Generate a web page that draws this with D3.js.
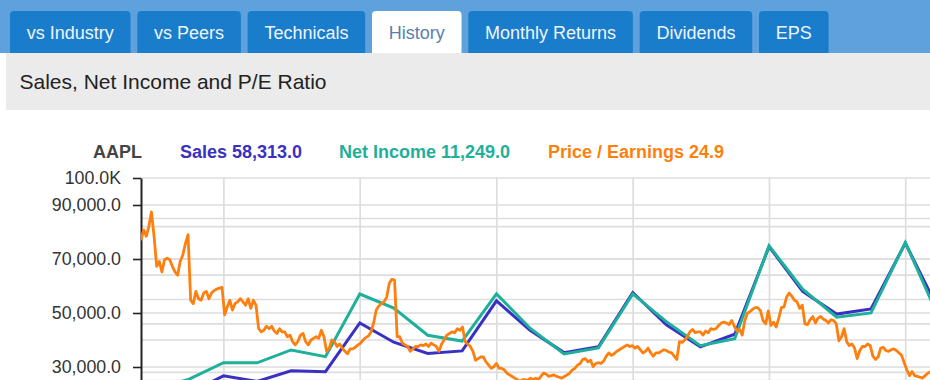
<!DOCTYPE html>
<html>
<head>
<meta charset="utf-8">
<script src="https://cdn.jsdelivr.net/npm/d3@7"></script>
<style>
  html, body { margin: 0; padding: 0; background: #fff; }
  svg { display: block; font-family: "Liberation Sans", Arial, sans-serif; }
</style>
</head>
<body>
<svg id="chart" width="930" height="380"></svg>
<script>
// ---------------- DATA ----------------
const tabs = ["vs Industry", "vs Peers", "Technicals", "History", "Monthly Returns", "Dividends", "EPS"];
const activeTab = "History";
const title = "Sales, Net Income and P/E Ratio";

const ticker = "AAPL";
const legendNames = ["Sales", "Net Income", "Price / Earnings"];
const legendValues = ["58,313.0", "11,249.0", "24.9"];

// quarterly figures (millions)
const quarterDates = [
  "2010-06-30","2010-09-30","2010-12-31",
  "2011-03-31","2011-06-30","2011-09-30","2011-12-31",
  "2012-03-31","2012-06-30","2012-09-30","2012-12-31",
  "2013-03-31","2013-06-30","2013-09-30","2013-12-31",
  "2014-03-31","2014-06-30","2014-09-30","2014-12-31",
  "2015-03-31","2015-06-30","2015-09-30","2015-12-31",
  "2016-03-31"
];
const sales = [
  15700, 20343, 26741,
  24667, 28571, 28270, 46333,
  39186, 35023, 35966, 54512,
  43603, 35323, 37472, 57594,
  45646, 37432, 42123, 74599,
  58010, 49605, 51501, 75872,
  50557
];
const netIncome = [
  3253, 4308, 6004,
  5987, 7308, 6623, 13064,
  11622, 8824, 8223, 13078,
  9547, 6900, 7512, 13072,
  10223, 7748, 8467, 18024,
  13569, 10677, 11124, 18361,
  10516
];

// weekly price / earnings ratio, starting date + 7-day steps
const peStart = "2010-05-24";
const peStepDays = 7;
const peRatio = [
  27.3,28.6,27.8,29.0,30.8,27.8,24.1,24.7,23.4,24.9,
  25.1,24.9,24.1,23.4,23.0,24.7,25.5,26.9,28.0,19.9,
  19.5,21.0,20.1,19.9,20.8,21.0,20.1,20.8,21.1,21.3,
  21.4,21.5,18.1,19.1,19.9,18.7,19.5,19.7,20.1,19.7,
  19.3,20.1,18.9,19.9,19.3,16.4,16.0,16.2,16.7,16.4,
  16.7,16.1,15.8,16.4,16.0,16.0,15.4,15.6,14.8,14.4,
  14.8,15.6,15.8,14.8,14.4,15.0,15.2,15.4,15.2,16.2,
  15.4,13.6,14.0,15.0,14.8,14.2,14.5,14.0,13.6,13.3,
  13.9,13.9,14.1,14.4,14.6,15.0,15.3,15.5,16.0,17.1,
  18.7,19.2,19.5,19.7,20.3,22.0,22.5,22.4,15.4,15.4,
  14.6,14.4,14.2,13.6,13.9,14.2,14.2,14.4,14.3,14.5,
  14.2,14.6,14.4,14.2,13.6,14.5,15.0,15.6,15.8,16.0,
  15.9,16.4,16.2,16.6,14.8,14.5,14.2,13.6,12.5,12.7,
  12.9,12.9,12.3,11.9,11.5,11.7,12.1,11.5,11.5,11.3,
  10.9,10.7,10.5,10.3,10.1,9.9,10.1,10.1,10.0,10.3,
  10.1,10.3,10.1,10.5,10.9,10.8,10.5,10.6,10.7,10.5,
  10.4,10.3,10.5,10.7,10.9,11.3,11.5,11.9,12.1,12.6,
  12.7,12.3,12.5,11.7,12.1,12.2,12.1,12.4,13.0,13.4,
  13.1,13.3,13.6,13.8,14.0,14.2,14.4,14.2,14.3,14.0,
  14.2,13.8,13.4,13.6,14.0,13.4,13.0,13.4,13.4,13.6,
  13.8,13.7,13.5,13.4,13.0,12.6,14.8,14.7,15.0,15.4,
  16.0,16.3,15.9,16.0,16.0,15.6,16.1,15.9,16.4,16.3,
  16.4,16.8,17.1,17.2,17.1,16.9,17.4,16.7,16.1,16.3,
  15.6,17.4,18.3,18.5,18.8,19.0,19.0,18.6,17.4,17.0,
  18.6,16.8,17.2,16.6,17.7,19.0,19.1,20.3,20.8,20.4,
  19.9,19.7,18.9,19.3,17.0,16.9,17.5,17.9,17.1,17.7,
  17.9,17.6,17.4,17.1,17.5,17.4,17.0,14.9,15.4,16.4,
  14.8,14.3,14.5,14.0,12.7,13.7,14.2,14.2,14.5,14.3,
  13.0,12.6,12.9,14.0,14.1,13.7,13.6,13.8,13.9,13.7,
  13.4,13.1,12.2,11.3,10.6,11.1,10.6,10.5,10.4,10.3,
  10.6,10.9,11.1
];

const salesTicks = [30000, 50000, 70000, 90000, 100000];
const salesTickLabels = ["30,000.0", "50,000.0", "70,000.0", "90,000.0", "100.0K"];
const netIncomeTicks = [5000, 10000, 15000, 20000, 25000];
const peTicks = [10, 15, 20, 25, 30, 35];
const yearLines = ["2011-01-01","2012-01-01","2013-01-01","2014-01-01","2015-01-01","2016-01-01"];

// ---------------- STYLE ----------------
const C = {
  bar: "#5fa1dd", tab: "#1a7dcb", tabText: "#eef4fb", activeText: "#5a7fa8",
  band: "#ebebeb", titleText: "#222",
  sales: "#3a31c3", ni: "#1eb09b", pe: "#ff7f0e", grid: "#dddddd", axis: "#222", tick: "#333"
};
const FONT = 18;

const svg = d3.select("#chart");
const parse = d3.utcParse("%Y-%m-%d");

// ---------------- HEADER ----------------
svg.append("rect").attr("x", 0).attr("y", 0).attr("width", 930).attr("height", 53).attr("fill", C.bar);

const tabG = svg.append("g");
let tx = 10;
tabs.forEach(t => {
  const g = tabG.append("g");
  const txt = g.append("text")
    .attr("y", 39)
    .attr("font-size", FONT)
    .attr("text-anchor", "middle")
    .attr("fill", t === activeTab ? C.activeText : C.tabText)
    .text(t);
  const w = txt.node().getComputedTextLength() + 33.5;
  g.insert("rect", "text")
    .attr("x", tx).attr("y", 11).attr("width", w).attr("height", 50)
    .attr("rx", 4).attr("ry", 4)
    .attr("fill", t === activeTab ? "#fff" : C.tab);
  txt.attr("x", tx + w / 2);
  tx += w + 6.8;
});

svg.append("rect").attr("x", 6).attr("y", 53).attr("width", 930).attr("height", 57).attr("fill", C.band);
svg.append("text").attr("x", 19.5).attr("y", 89).attr("font-size", 21).attr("fill", C.titleText).text(title);

// ---------------- LEGEND ----------------
const legendX = [93, 180, 339, 548];
const legendColors = ["#444", C.sales, C.ni, C.pe];
const legendTexts = [ticker].concat(legendNames.map((n, i) => n + " " + legendValues[i]));
svg.append("g").selectAll("text").data(legendTexts).join("text")
  .attr("x", (d, i) => legendX[i]).attr("y", 158)
  .attr("font-size", FONT).attr("font-weight", "bold")
  .attr("fill", (d, i) => legendColors[i])
  .text(d => d);

// ---------------- SCALES ----------------
const plotLeft = 141, plotTop = 178, plotRight = 930;
const x = d3.scaleUtc().domain([parse("2010-05-24"), parse("2016-03-06")]).range([plotLeft, plotRight]);
const ySales = d3.scaleLinear().domain([0, 100000]).range([448, plotTop]);
const yNI = d3.scaleLinear().domain([0, 25000]).range([421, plotTop]);
const yPE = d3.scaleLinear().domain([0, 35]).range([461.5, plotTop]);

svg.append("defs").append("clipPath").attr("id", "plotClip")
  .append("rect").attr("x", plotLeft).attr("y", plotTop - 10).attr("width", plotRight - plotLeft + 20).attr("height", 400);

// ---------------- GRID ----------------
const grid = svg.append("g").attr("stroke", C.grid).attr("stroke-width", 1.7);
const hLines = [plotTop]
  .concat(salesTicks.filter(v => v < 100000).map(v => ySales(v)))
  .concat(netIncomeTicks.filter(v => v < 25000).map(v => yNI(v)))
  .concat(peTicks.filter(v => v < 35).map(v => yPE(v)));
grid.selectAll("line.h").data(hLines).join("line")
  .attr("x1", plotLeft).attr("x2", plotRight).attr("y1", d => d).attr("y2", d => d);
grid.selectAll("line.v").data(yearLines.map(parse)).join("line")
  .attr("x1", d => x(d)).attr("x2", d => x(d)).attr("y1", plotTop).attr("y2", 460);

// ---------------- AXIS ----------------
const axis = d3.axisLeft(ySales).tickValues(salesTicks)
  .tickFormat((d, i) => salesTickLabels[i]).tickSizeInner(8).tickSizeOuter(0).tickPadding(12);
const ag = svg.append("g").attr("transform", `translate(${plotLeft},0)`).call(axis);
ag.select(".domain").attr("stroke", C.axis).attr("stroke-width", 2);
ag.selectAll(".tick line").attr("stroke", C.axis).attr("stroke-width", 1.6);
ag.selectAll(".tick text").attr("font-size", 17.8).attr("fill", C.tick)
  .attr("font-family", "'Liberation Sans', Arial, sans-serif");

// ---------------- SERIES ----------------
const plot = svg.append("g").attr("clip-path", "url(#plotClip)");
const qDates = quarterDates.map(parse);
const salesData = qDates.map((d, i) => ({ d, v: sales[i] }));
const niData = qDates.map((d, i) => ({ d, v: netIncome[i] }));
const pe0 = parse(peStart);
const peData = peRatio.map((v, i) => ({ d: d3.utcDay.offset(pe0, i * peStepDays), v }));

plot.append("path").datum(salesData)
  .attr("fill", "none").attr("stroke", C.sales).attr("stroke-width", 3)
  .attr("d", d3.line().x(p => x(p.d)).y(p => ySales(p.v)));
plot.append("path").datum(niData)
  .attr("fill", "none").attr("stroke", C.ni).attr("stroke-width", 3)
  .attr("d", d3.line().x(p => x(p.d)).y(p => yNI(p.v)));
plot.append("path").datum(peData)
  .attr("fill", "none").attr("stroke", C.pe).attr("stroke-width", 2.8)
  .attr("stroke-linejoin", "round")
  .attr("d", d3.line().x(p => x(p.d)).y(p => yPE(p.v)));
</script>
</body>
</html>
